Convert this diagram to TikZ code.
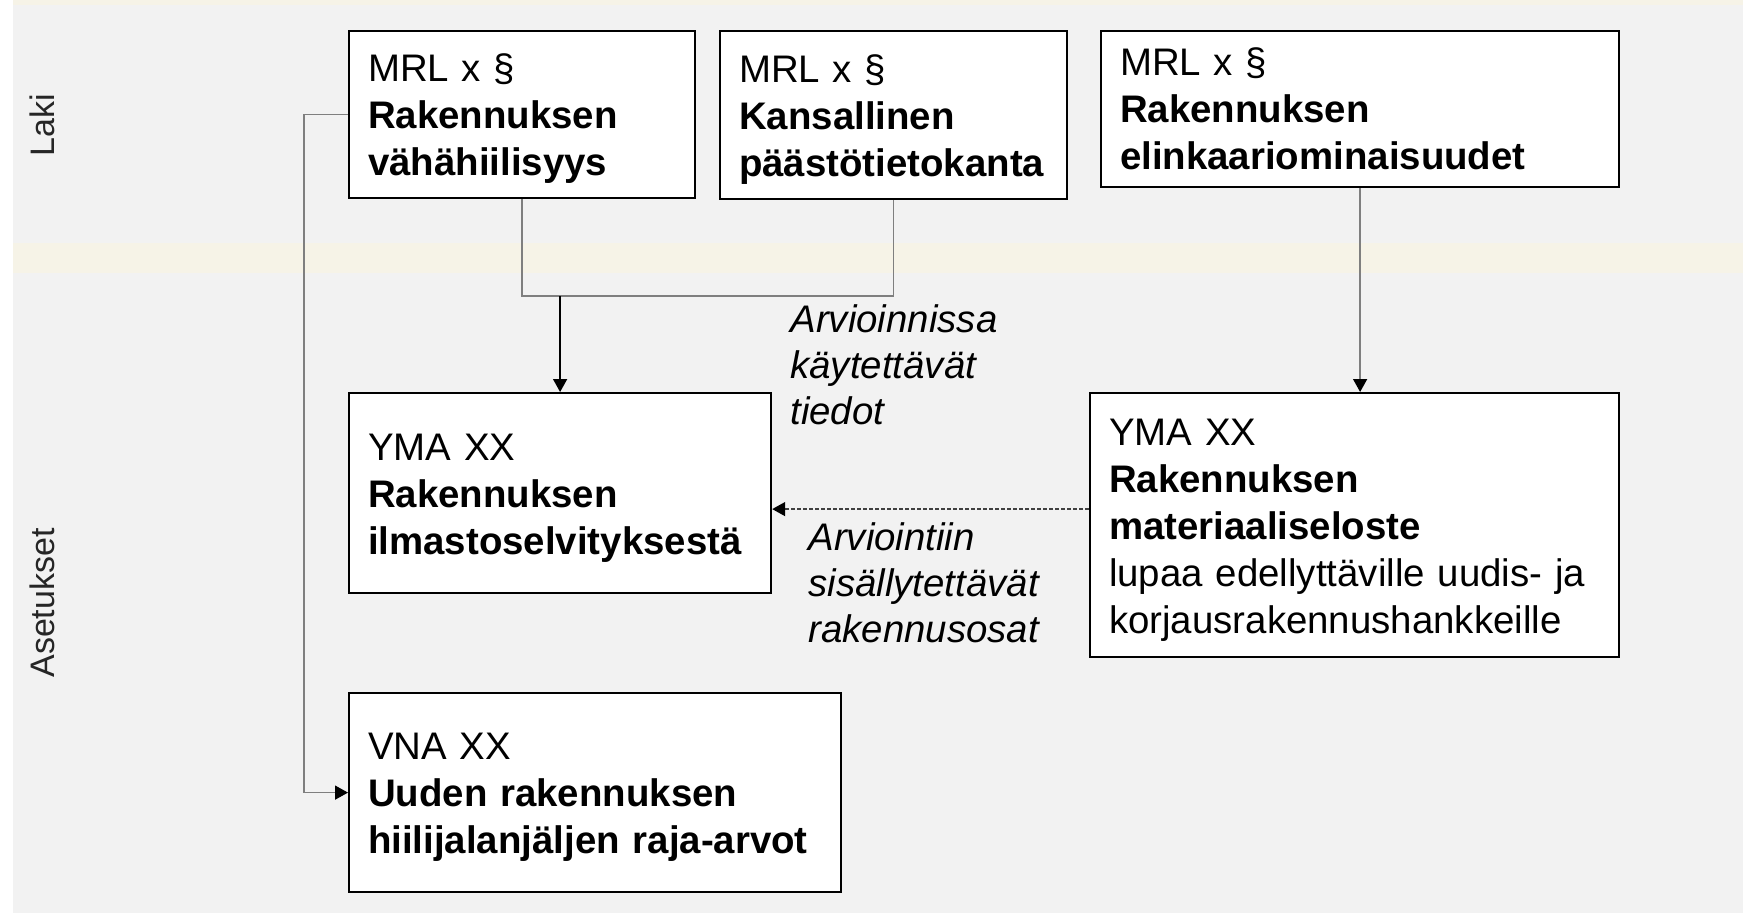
\documentclass[tikz,border=0pt]{standalone}
\usepackage{fontspec}
\setmainfont{Liberation Sans}
\usetikzlibrary{arrows.meta,calc}
\definecolor{panel}{HTML}{F2F2F2}
\definecolor{band}{HTML}{F6F3E7}
\definecolor{linegray}{HTML}{7F7F7F}
\newcommand{\mytopstrut}{\rule{0pt}{18pt}}
\begin{document}
\begin{tikzpicture}[x=0.5pt,y=-0.5pt,
  box/.style={draw=black, line width=1.1pt, fill=white, anchor=north west,
    inner xsep=9.5pt, inner ysep=0pt, align=left,
    font=\fontsize{19.2}{23.5}\selectfont},
  lab/.style={font=\fontsize{19.2}{23}\selectfont\itshape, align=left,
    anchor=north west, inner sep=0pt},
  side/.style={rotate=90, font=\fontsize{17}{20}\selectfont, text=black!85},
  conn/.style={draw=linegray, line width=0.75pt},
  arr/.style={-{Triangle[length=6.5pt,width=7pt,color=black]}},
  dashline/.style={draw=black!75, line width=0.75pt, dash pattern=on 2pt off 1pt}
]
\useasboundingbox (0,0) rectangle (1743,915);
\fill[white] (0,0) rectangle (1743,915);
\fill[panel] (13,5) rectangle (1743,913);
\fill[band] (13,0) rectangle (1743,5);
\fill[band] (13,243) rectangle (1743,273);

\node[side] (laki) at (42,125) {Laki};
\node[side] (asetukset) at (42,603) {Asetukset};

\node[box, text width=154pt, minimum height=83.5pt] (A) at (348,30)
  {\mytopstrut MRL x §\\\textbf{Rakennuksen}\\\textbf{vähähiilisyys}};
\node[box, text width=154.5pt, minimum height=84pt] (B) at (719,30)
  {\mytopstrut MRL x §\\\textbf{Kansallinen}\\\textbf{päästötietokanta}};
\node[box, text width=240pt, minimum height=78pt] (C) at (1100,30)
  {MRL x §\\\textbf{Rakennuksen}\\\textbf{elinkaariominaisuudet}};
\node[box, text width=192pt, minimum height=100pt] (D) at (348,392)
  {\mytopstrut YMA XX\\\textbf{Rakennuksen}\\\textbf{ilmastoselvityksestä}};
\node[box, text width=245.5pt, minimum height=132pt] (E) at (1089,392)
  {\mytopstrut YMA XX\\\textbf{Rakennuksen}\\\textbf{materiaaliseloste}\\lupaa edellyttäville uudis- ja\\korjausrakennushankkeille};
\node[box, text width=227pt, minimum height=99.5pt] (F) at (348,692)
  {\mytopstrut VNA XX\\\textbf{Uuden rakennuksen}\\\textbf{hiilijalanjäljen raja-arvot}};

\node[lab] (L1) at (790,304) {Arvioinnissa\\käytettävät\\tiedot};
\node[lab] (L2) at (808,522) {Arviointiin\\sisällytettävät\\rakennusosat};

\draw[conn, arr] (A.west) -- ++(-44,0) |- (F.west);
\coordinate (J) at ($(A.south)+(0,97)$);
\draw[conn] (A.south) -- (J) -| (B.south);
\draw[line width=0.75pt, draw=black, arr] (D.north |- J) -- (D.north);
\draw[conn, arr] (C.south) -- (C.south |- E.north);
\coordinate (K) at ($(E.west)+(0,-16)$);
\draw[dashline, arr] (K) -- (D.east |- K);
\end{tikzpicture}
\end{document}
